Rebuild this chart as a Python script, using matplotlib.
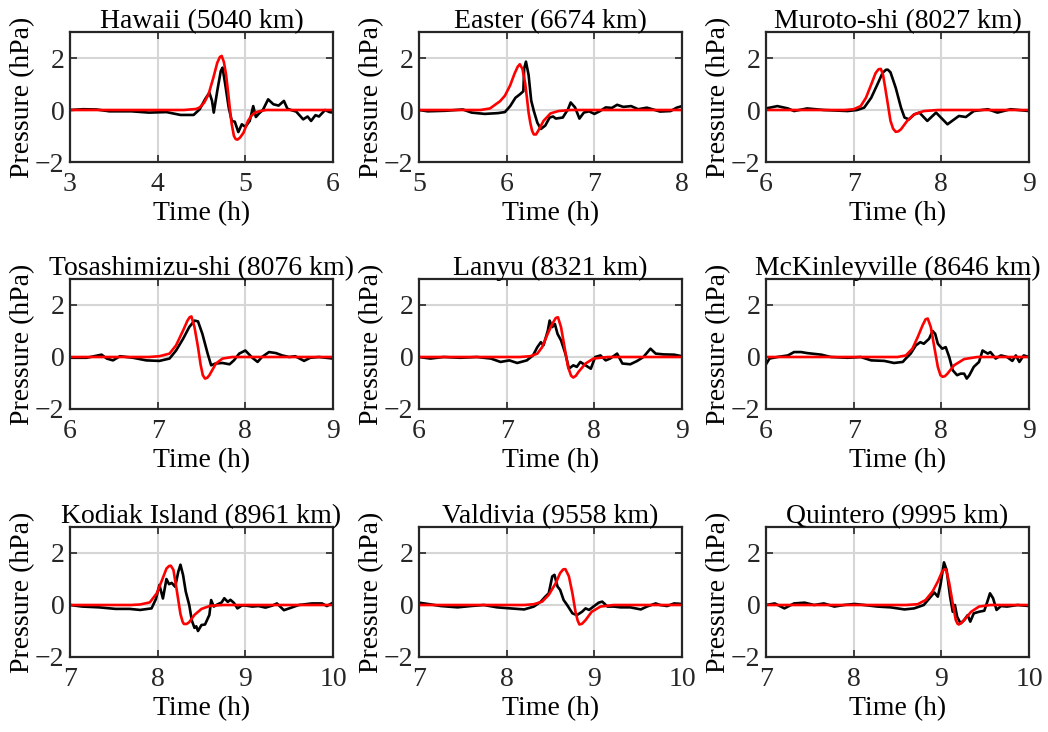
import matplotlib
matplotlib.use("Agg")
import matplotlib.pyplot as plt

plt.rcParams['font.family'] = ['Liberation Serif', 'DejaVu Serif']
plt.rcParams['font.size'] = 20

stations = ["Hawaii (5040 km)", "Easter (6674 km)", "Muroto-shi (8027 km)",
            "Tosashimizu-shi (8076 km)", "Lanyu (8321 km)", "McKinleyville (8646 km)",
            "Kodiak Island (8961 km)", "Valdivia (9558 km)", "Quintero (9995 km)"]
xlims = [(3, 6), (5, 8), (6, 9), (6, 9), (6, 9), (6, 9), (7, 10), (7, 10), (7, 10)]

# observed pressure (black)
obs_t = [
    [3.0, 3.15, 3.3, 3.45, 3.7, 3.9, 4.1, 4.26, 4.41, 4.48, 4.54, 4.59, 4.62, 4.64, 4.68, 4.72, 4.74, 4.77, 4.81, 4.845, 4.88, 4.92, 4.96, 5.0, 5.05, 5.09, 5.12, 5.16, 5.2, 5.26, 5.32, 5.38, 5.44, 5.48, 5.52, 5.58, 5.66, 5.71, 5.75, 5.8, 5.84, 5.91, 5.96, 6.0],
    [5.0, 5.1, 5.3, 5.5, 5.6, 5.75, 5.9, 5.98, 6.04, 6.1, 6.15, 6.19, 6.2, 6.22, 6.25, 6.28, 6.31, 6.35, 6.39, 6.44, 6.49, 6.53, 6.56, 6.64, 6.70, 6.73, 6.78, 6.83, 6.88, 6.94, 7.0, 7.06, 7.13, 7.2, 7.26, 7.33, 7.42, 7.5, 7.6, 7.75, 7.87, 7.94, 8.0],
    [6.0, 6.13, 6.25, 6.32, 6.47, 6.66, 6.93, 7.04, 7.12, 7.2, 7.27, 7.33, 7.37, 7.39, 7.42, 7.48, 7.54, 7.58, 7.63, 7.69, 7.75, 7.84, 7.94, 8.07, 8.20, 8.28, 8.37, 8.53, 8.64, 8.79, 9.0],
    [6.0, 6.19, 6.36, 6.42, 6.49, 6.57, 6.72, 6.87, 7.02, 7.135, 7.21, 7.29, 7.36, 7.42, 7.46, 7.51, 7.57, 7.61, 7.66, 7.74, 7.82, 7.87, 7.93, 8.0, 8.08, 8.14, 8.19, 8.27, 8.35, 8.42, 8.50, 8.57, 8.67, 8.74, 8.84, 9.0],
    [6.0, 6.13, 6.28, 6.47, 6.66, 6.82, 6.93, 7.03, 7.12, 7.23, 7.30, 7.35, 7.39, 7.42, 7.47, 7.49, 7.52, 7.55, 7.58, 7.62, 7.67, 7.71, 7.76, 7.80, 7.84, 7.90, 7.96, 8.01, 8.07, 8.13, 8.18, 8.26, 8.32, 8.41, 8.49, 8.56, 8.64, 8.70, 8.79, 8.91, 9.0],
    [6.0, 6.04, 6.13, 6.25, 6.32, 6.4, 6.47, 6.63, 6.74, 6.93, 7.08, 7.2, 7.35, 7.46, 7.56, 7.595, 7.65, 7.71, 7.76, 7.80, 7.86, 7.90, 7.93, 7.96, 8.01, 8.05, 8.09, 8.13, 8.18, 8.22, 8.26, 8.29, 8.32, 8.37, 8.43, 8.47, 8.53, 8.56, 8.62, 8.68, 8.75, 8.81, 8.85, 8.89, 8.94, 9.0],
    [7.0, 7.14, 7.33, 7.52, 7.68, 7.8, 7.93, 7.98, 8.02, 8.06, 8.1, 8.13, 8.16, 8.2, 8.235, 8.26, 8.29, 8.32, 8.36, 8.39, 8.42, 8.44, 8.46, 8.5, 8.54, 8.59, 8.61, 8.64, 8.68, 8.73, 8.76, 8.8, 8.83, 8.87, 8.91, 8.96, 9.0, 9.08, 9.15, 9.23, 9.31, 9.36, 9.44, 9.50, 9.61, 9.76, 9.875, 9.93, 10.0],
    [7.0, 7.1, 7.25, 7.44, 7.59, 7.74, 7.89, 8.04, 8.20, 8.31, 8.39, 8.44, 8.48, 8.52, 8.545, 8.58, 8.61, 8.65, 8.69, 8.75, 8.80, 8.86, 8.90, 8.94, 8.99, 9.05, 9.09, 9.15, 9.22, 9.30, 9.41, 9.53, 9.60, 9.70, 9.75, 9.83, 9.91, 10.0],
    [7.0, 7.1, 7.21, 7.32, 7.44, 7.55, 7.66, 7.78, 7.89, 8.01, 8.12, 8.27, 8.42, 8.58, 8.69, 8.80, 8.88, 8.92, 8.96, 8.99, 9.03, 9.06, 9.10, 9.13, 9.155, 9.18, 9.22, 9.26, 9.30, 9.33, 9.37, 9.43, 9.49, 9.525, 9.555, 9.59, 9.63, 9.68, 9.75, 9.87, 10.0],
]
obs_p = [
    [0.0, 0.03, 0.02, -0.05, -0.05, -0.1, -0.08, -0.19, -0.19, 0.03, 0.41, 0.67, 0.35, -0.1, 0.74, 1.5, 1.63, 1.0, 0.1, -0.42, -0.45, -0.85, -0.55, -0.65, -0.42, 0.15, -0.27, -0.12, 0.0, 0.41, 0.22, 0.17, 0.35, 0.05, 0.0, -0.06, -0.36, -0.25, -0.42, -0.2, -0.25, 0.0, -0.08, -0.1],
    [0.0, -0.05, -0.03, 0.02, -0.1, -0.15, -0.12, -0.08, 0.15, 0.47, 0.6, 0.72, 1.6, 1.86, 1.35, 0.36, -0.04, -0.49, -0.73, -0.6, -0.29, -0.25, -0.33, -0.29, 0.03, 0.29, 0.1, -0.33, -0.1, -0.05, -0.15, -0.05, 0.1, 0.08, 0.2, 0.12, 0.15, 0.03, 0.09, -0.06, -0.04, 0.09, 0.15],
    [0.06, 0.15, 0.06, -0.04, 0.06, 0.0, -0.04, 0.0, 0.09, 0.47, 0.98, 1.43, 1.55, 1.55, 1.45, 0.85, 0.09, -0.29, -0.36, -0.17, -0.1, -0.42, -0.1, -0.55, -0.23, -0.27, -0.04, 0.03, -0.1, 0.03, -0.04],
    [-0.03, -0.03, 0.09, -0.06, -0.13, 0.03, -0.03, -0.13, -0.15, -0.06, 0.25, 0.7, 1.15, 1.4, 1.37, 0.89, 0.13, -0.32, -0.25, -0.23, -0.28, -0.13, 0.13, 0.25, -0.03, -0.19, 0.0, 0.19, 0.15, 0.06, 0.0, 0.03, -0.15, -0.03, 0.0, -0.06],
    [0.0, -0.06, 0.0, -0.03, 0.0, -0.06, -0.19, -0.13, -0.23, -0.13, 0.06, 0.38, 0.57, 0.45, 1.02, 1.4, 1.15, 1.27, 0.89, 0.64, 0.13, -0.45, -0.32, -0.38, -0.19, -0.32, -0.45, 0.0, 0.06, -0.13, -0.06, 0.13, -0.25, -0.28, -0.15, 0.0, 0.32, 0.13, 0.1, 0.09, 0.03],
    [-0.28, -0.06, 0.0, 0.06, 0.19, 0.19, 0.15, 0.09, 0.0, -0.03, 0.0, -0.13, -0.15, -0.23, -0.19, -0.06, 0.13, 0.45, 0.57, 0.51, 0.7, 1.0, 0.89, 0.51, 0.32, 0.38, 0.0, -0.51, -0.7, -0.64, -0.64, -0.83, -0.7, -0.38, -0.19, 0.25, 0.13, 0.19, -0.06, 0.06, 0.0, -0.15, 0.06, -0.19, 0.06, 0.0],
    [0.0, -0.06, -0.09, -0.15, -0.15, -0.19, -0.13, 0.23, 0.77, 0.25, 1.0, 0.8, 0.85, 0.7, 1.28, 1.55, 1.15, 0.52, 0.0, -0.6, -0.88, -0.82, -1.0, -0.77, -0.75, -0.38, 0.19, -0.06, 0.02, 0.1, 0.26, 0.12, 0.2, 0.08, -0.13, -0.02, -0.02, -0.06, -0.04, -0.1, -0.02, 0.06, -0.2, -0.13, 0.0, 0.06, 0.06, -0.04, 0.09],
    [0.09, 0.04, -0.04, -0.09, -0.04, 0.0, -0.09, -0.13, -0.17, -0.06, 0.13, 0.32, 0.45, 1.1, 1.16, 0.71, 0.58, 0.19, 0.0, -0.32, -0.39, -0.26, -0.13, -0.19, -0.06, 0.09, 0.13, -0.06, -0.06, -0.09, -0.09, -0.17, -0.06, 0.06, 0.0, -0.04, 0.06, 0.04],
    [0.0, 0.06, -0.13, 0.06, 0.09, 0.0, 0.06, -0.06, 0.0, 0.04, 0.0, -0.06, -0.09, -0.17, -0.13, 0.0, 0.32, 0.48, 0.32, 0.77, 1.64, 1.35, 0.32, -0.26, 0.0, -0.45, -0.71, -0.58, -0.39, -0.64, -0.32, -0.26, -0.22, 0.13, 0.45, 0.26, -0.19, -0.04, -0.06, 0.0, -0.04],
]

# modelled pressure (red)
mod_t = [
    [3.0, 4.3, 4.44, 4.48, 4.53, 4.58, 4.635, 4.68, 4.71, 4.73, 4.755, 4.78, 4.806, 4.825, 4.845, 4.87, 4.89, 4.91, 4.94, 4.98, 5.03, 5.07, 5.11, 5.17, 5.24, 5.35, 6.0],
    [5.0, 5.7, 5.81, 5.925, 5.98, 6.04, 6.09, 6.125, 6.15, 6.18, 6.21, 6.23, 6.25, 6.27, 6.29, 6.31, 6.335, 6.36, 6.42, 6.5, 6.59, 6.73, 8.0],
    [6.0, 6.9, 7.0, 7.08, 7.14, 7.2, 7.25, 7.285, 7.31, 7.335, 7.36, 7.39, 7.42, 7.45, 7.48, 7.51, 7.54, 7.61, 7.69, 7.80, 7.96, 9.0],
    [6.0, 6.9, 7.02, 7.135, 7.21, 7.29, 7.34, 7.365, 7.385, 7.42, 7.46, 7.49, 7.515, 7.54, 7.565, 7.59, 7.665, 7.74, 7.85, 9.0],
    [6.0, 7.15, 7.27, 7.35, 7.405, 7.46, 7.52, 7.56, 7.585, 7.62, 7.66, 7.70, 7.735, 7.76, 7.79, 7.82, 7.90, 7.99, 8.15, 9.0],
    [6.0, 7.4, 7.5, 7.595, 7.67, 7.73, 7.785, 7.82, 7.845, 7.88, 7.92, 7.96, 7.99, 8.015, 8.04, 8.07, 8.145, 8.26, 8.41, 9.0],
    [7.0, 7.7, 7.8, 7.91, 7.99, 8.05, 8.10, 8.13, 8.15, 8.18, 8.22, 8.26, 8.285, 8.30, 8.33, 8.36, 8.42, 8.50, 8.6, 8.75, 10.0],
    [7.0, 8.2, 8.31, 8.405, 8.48, 8.56, 8.61, 8.645, 8.67, 8.71, 8.75, 8.785, 8.81, 8.83, 8.86, 8.90, 8.97, 9.07, 9.22, 10.0],
    [7.0, 8.6, 8.73, 8.82, 8.90, 8.96, 9.01, 9.035, 9.055, 9.09, 9.13, 9.165, 9.185, 9.20, 9.23, 9.26, 9.34, 9.43, 9.56, 10.0],
]
mod_p = [
    [0.0, 0.0, 0.04, 0.1, 0.28, 0.6, 1.24, 1.82, 2.04, 2.08, 1.85, 1.37, 0.6, 0.0, -0.55, -1.0, -1.12, -1.14, -1.06, -0.87, -0.42, -0.22, -0.1, -0.04, 0.0, 0.0, 0.0],
    [0.0, 0.0, 0.06, 0.34, 0.55, 0.95, 1.4, 1.66, 1.76, 1.58, 1.05, 0.5, -0.1, -0.5, -0.8, -0.94, -0.94, -0.8, -0.42, -0.13, -0.04, 0.0, 0.0],
    [0.0, 0.0, 0.03, 0.15, 0.47, 0.98, 1.42, 1.57, 1.58, 1.35, 0.85, 0.22, -0.42, -0.72, -0.84, -0.82, -0.74, -0.42, -0.17, -0.04, 0.0, 0.0],
    [0.0, 0.0, 0.03, 0.13, 0.45, 1.02, 1.4, 1.53, 1.56, 1.15, 0.38, -0.3, -0.7, -0.83, -0.8, -0.7, -0.25, -0.06, 0.0, 0.0],
    [0.0, 0.0, 0.03, 0.13, 0.38, 0.83, 1.27, 1.5, 1.53, 1.15, 0.38, -0.38, -0.72, -0.79, -0.72, -0.57, -0.25, -0.06, 0.0, 0.0],
    [0.0, 0.0, 0.0, 0.06, 0.32, 0.76, 1.21, 1.45, 1.48, 1.15, 0.38, -0.38, -0.7, -0.76, -0.74, -0.64, -0.32, -0.08, 0.0, 0.0],
    [0.0, 0.0, 0.02, 0.1, 0.45, 0.96, 1.4, 1.5, 1.51, 1.35, 0.52, -0.35, -0.65, -0.73, -0.73, -0.66, -0.38, -0.15, -0.03, 0.0, 0.0],
    [0.0, 0.0, 0.03, 0.13, 0.39, 0.84, 1.23, 1.37, 1.38, 1.1, 0.45, -0.26, -0.6, -0.75, -0.72, -0.58, -0.26, -0.06, 0.0, 0.0],
    [0.0, 0.0, 0.03, 0.19, 0.52, 0.9, 1.29, 1.37, 1.36, 0.84, 0.06, -0.58, -0.72, -0.75, -0.68, -0.58, -0.26, -0.06, 0.0, 0.0],
]

fig = plt.figure(figsize=(10.48, 7.32), dpi=100)
W, H = 1048.0, 732.0
lefts = [70, 419, 766]
tops = [32, 279, 527]
aw, ah = 263, 130

for i in range(9):
    r, c = divmod(i, 3)
    ax = fig.add_axes([lefts[c] / W, 1 - (tops[r] + ah) / H, aw / W, ah / H])
    ax.grid(True, color='#d6d6d6', linewidth=1.5)
    ax.set_axisbelow(True)
    ax.plot(obs_t[i], obs_p[i], color='black', linewidth=1.9, solid_joinstyle='round')
    ax.plot(mod_t[i], mod_p[i], color='red', linewidth=1.9, solid_joinstyle='round')
    x0, x1 = xlims[i]
    ax.set_xlim(x0, x1)
    ax.set_ylim(-2, 3)
    ax.set_xticks(range(x0, x1 + 1))
    ax.set_yticks([-2, 0, 2])
    ax.tick_params(direction='in', length=5, width=1.2, top=True, right=True,
                   color='#262626', labelcolor='#262626')
    ax.tick_params(axis='x', pad=7)
    ax.tick_params(axis='y', pad=4)
    for s in ax.spines.values():
        s.set_linewidth(1.6)
        s.set_color('#262626')
    ax.set_title(stations[i], fontsize=20, pad=3)
    ax.set_xlabel('Time (h)', labelpad=3)
    ax.set_ylabel('Pressure (hPa)', labelpad=0)

fig.savefig('out.png', dpi=100)
